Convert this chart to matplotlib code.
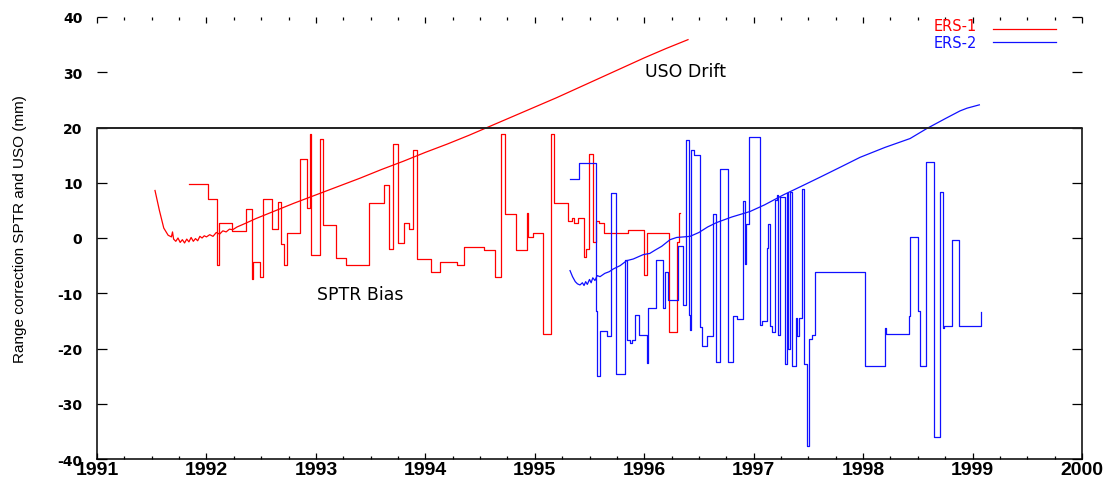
import numpy as np
import matplotlib
matplotlib.use("Agg")
import matplotlib.pyplot as plt
from matplotlib.ticker import MultipleLocator

# ---------------- data ----------------
# ERS-1 SPTR bias: step start times (decimal year) and values (mm)
ers1_sptr_t = [1991.841, 1992.012, 1992.094, 1992.118, 1992.231, 1992.361, 1992.414,
               1992.428, 1992.489, 1992.514, 1992.602, 1992.651, 1992.679, 1992.711,
               1992.739, 1992.858, 1992.916, 1992.949, 1992.958, 1993.038, 1993.062,
               1993.184, 1993.275, 1993.485, 1993.622, 1993.668, 1993.705, 1993.750,
               1993.805, 1993.848, 1993.885, 1993.921, 1994.052, 1994.134, 1994.289,
               1994.353, 1994.536, 1994.634, 1994.689, 1994.728, 1994.829, 1994.932,
               1994.941, 1994.984, 1995.078, 1995.146, 1995.179, 1995.301, 1995.338,
               1995.359, 1995.398, 1995.453, 1995.468, 1995.498, 1995.535, 1995.560,
               1995.590, 1995.635, 1995.849, 1996.001, 1996.023, 1996.227, 1996.297,
               1996.321]
ers1_sptr_v = [9.8, 7.1, -4.9, 2.7, 1.3, 5.3, -7.4,
               -4.4, -7.0, 7.1, 1.6, 6.6, -1.1, -4.9,
               0.85, 14.3, 5.5, 18.8, -3.0, 17.9, 2.4,
               -3.7, -4.9, 6.3, 9.6, -2.0, 17.0, -0.9,
               2.7, 1.6, 15.9, -3.8, -6.1, -4.3, -4.8,
               -1.6, -2.2, -7.0, 18.8, 4.3, -2.1, 4.5,
               0.2, 0.9, -17.3, 18.9, 6.3, 3.1, 3.6,
               2.7, 3.6, -3.5, -2.0, 15.2, -0.8, 3.1,
               2.7, 0.9, 1.45, -6.7, 0.9, -17.1, -0.8,
               4.5]
ers1_sptr_end = 1996.325

# ERS-2 SPTR bias
ers2_sptr_t = [1995.322, 1995.404, 1995.560, 1995.571, 1995.596, 1995.663, 1995.694,
               1995.740, 1995.825, 1995.843, 1995.870, 1995.891, 1995.916, 1995.955,
               1996.023, 1996.037, 1996.108, 1996.175, 1996.193, 1996.220, 1996.312,
               1996.357, 1996.382, 1996.409, 1996.418, 1996.428, 1996.458, 1996.510,
               1996.525, 1996.577, 1996.631, 1996.653, 1996.693, 1996.768, 1996.809,
               1996.845, 1996.906, 1996.917, 1996.926, 1996.960, 1997.058, 1997.079,
               1997.119, 1997.134, 1997.149, 1997.168, 1997.195, 1997.211, 1997.225,
               1997.241, 1997.287, 1997.302, 1997.314, 1997.332, 1997.348, 1997.384,
               1997.393, 1997.414, 1997.445, 1997.460, 1997.483, 1997.506, 1997.530,
               1997.561, 1998.018, 1998.200, 1998.209, 1998.420, 1998.429, 1998.505,
               1998.520, 1998.572, 1998.651, 1998.703, 1998.733, 1998.742, 1998.815,
               1998.876, 1999.078]
ers2_sptr_v = [10.7, 13.5, -13.2, -25.0, -16.8, -17.8, 8.1,
               -24.7, -4.0, -18.5, -19.0, -18.5, -13.9, -17.5,
               -22.7, -12.7, -4.0, -12.7, -6.2, -11.2, -1.4,
               -12.1, 17.7, -14.0, -16.6, 15.9, 15.0, -16.1,
               -19.5, -17.8, 4.4, -22.5, 12.4, -22.5, -14.1,
               -14.7, 6.75, -4.7, 2.6, 18.2, -15.7, -15.0,
               -1.8, 2.6, -15.9, -17.1, 6.9, 7.7, -17.5,
               7.5, -22.8, 8.2, -20.0, 8.3, -23.1, -14.4,
               -17.7, -14.5, 8.9, -22.8, -37.6, -18.3, -17.5,
               -6.1, -23.1, -16.3, -17.3, -14.2, 0.1, -13.3,
               -23.2, 13.8, -36.1, 8.4, -16.3, -15.9, -0.3,
               -15.9, -13.4]
ers2_sptr_end = 1999.080

# ERS-1 USO drift
ers1_uso_t = [1991.53, 1991.57, 1991.61, 1991.65, 1991.68, 1991.69, 1991.70, 1991.72,
              1991.74, 1991.76, 1991.78, 1991.80, 1991.82, 1991.84, 1991.86, 1991.88,
              1991.90, 1991.92, 1991.94, 1991.96, 1991.98, 1992.00, 1992.03, 1992.06,
              1992.09, 1992.12, 1992.15, 1992.18, 1992.21, 1992.24, 1992.28, 1992.35,
              1992.45, 1992.60, 1992.80, 1993.00, 1993.20, 1993.40, 1993.60, 1993.80,
              1994.00, 1994.20, 1994.40, 1994.60, 1994.80, 1995.00, 1995.20, 1995.40,
              1995.60, 1995.80, 1996.00, 1996.20, 1996.40]
ers1_uso_v = [8.6, 5.0, 1.8, 0.5, 0.2, 1.1, -0.2, -0.6,
              0.0, -0.8, -0.3, -0.9, -0.2, -0.7, 0.1, -0.6,
              -0.1, -0.5, 0.3, 0.0, 0.4, 0.2, 0.6, 0.3,
              1.0, 0.7, 1.3, 1.1, 1.6, 1.5, 2.0, 2.6,
              3.5, 4.7, 6.3, 7.8, 9.3, 10.8, 12.4, 13.9,
              15.5, 17.0, 18.6, 20.3, 22.0, 23.7, 25.4, 27.2,
              29.0, 30.8, 32.6, 34.3, 35.9]

# ERS-2 USO drift
ers2_uso_t = [1995.322, 1995.345, 1995.370, 1995.390, 1995.413, 1995.435, 1995.450,
              1995.465, 1995.480, 1995.500, 1995.515, 1995.530, 1995.550, 1995.570,
              1995.596, 1995.640, 1995.680, 1995.718, 1995.780, 1995.840, 1995.900,
              1995.992, 1996.050, 1996.099, 1996.160, 1996.236, 1996.297, 1996.360,
              1996.419, 1996.500, 1996.580, 1996.662, 1996.800, 1996.967, 1997.100,
              1997.271, 1997.450, 1997.606, 1997.800, 1997.972, 1998.200, 1998.429,
              1998.581, 1998.750, 1998.885, 1998.950, 1999.062]
ers2_uso_v = [-5.9, -7.0, -7.9, -8.3, -8.5, -8.1, -8.6,
              -7.9, -8.4, -7.5, -8.1, -7.2, -7.7, -6.8,
              -7.0, -6.4, -6.1, -5.6, -5.0, -4.1, -3.8,
              -3.0, -2.8, -2.2, -1.5, -0.3, 0.1, 0.2,
              0.3, 1.0, 2.0, 2.8, 3.8, 4.8, 6.0,
              7.8, 9.5, 11.0, 12.9, 14.6, 16.4, 18.0,
              19.8, 21.6, 23.0, 23.5, 24.1]

x_ticks = list(range(1991, 2001))
y_ticks = list(range(-40, 41, 10))

RED = "#ff0000"
BLUE = "#1010ff"

# ---------------- figure ----------------
fig = plt.figure(figsize=(11.08, 4.81), dpi=100)
ax = fig.add_axes([97 / 1108, 1 - 460 / 481, 985 / 1108, 442 / 481])


def steps(t, v, t_end):
    x = np.append(np.asarray(t, float), t_end)
    y = np.append(np.asarray(v, float), v[-1])
    return x, y


lw = 0.9
x1, y1 = steps(ers1_sptr_t, ers1_sptr_v, ers1_sptr_end)
ax.step(x1, y1, where="post", color=RED, lw=lw)
ax.plot(ers1_uso_t, ers1_uso_v, color=RED, lw=lw)

x2, y2 = steps(ers2_sptr_t, ers2_sptr_v, ers2_sptr_end)
ax.step(x2, y2, where="post", color=BLUE, lw=lw)
ax.plot(ers2_uso_t, ers2_uso_v, color=BLUE, lw=lw)

ax.set_xlim(1991, 2000)
ax.set_ylim(-40, 40)

# frame: closed box only below the 20 mm line
ax.spines["top"].set_visible(False)
ax.spines["left"].set_bounds(-40, 20)
ax.spines["right"].set_bounds(-40, 20)
for s in ("left", "right", "bottom"):
    ax.spines[s].set_linewidth(1.1)
ax.axhline(20, color="#202020", lw=1.4, zorder=3)

ax.set_xticks(x_ticks)
ax.set_xticklabels([str(v) for v in x_ticks])
ax.xaxis.set_minor_locator(MultipleLocator(0.25))
ax.set_yticks(y_ticks)
ax.set_yticklabels([str(v) for v in y_ticks])

ax.tick_params(axis="x", which="major", direction="in", top=True, bottom=True,
               length=4.5, width=0.9, pad=1.5)
ax.tick_params(axis="x", which="minor", direction="in", top=True, bottom=True,
               length=2.2, width=0.9)
ax.tick_params(axis="y", which="major", direction="in", left=True, right=True,
               length=7.2, width=0.9, pad=10.5)

for lab in ax.get_xticklabels():
    lab.set_fontfamily("Liberation Sans")
    lab.set_fontweight("bold")
    lab.set_fontsize(14)
for lab in ax.get_yticklabels():
    lab.set_fontfamily("DejaVu Sans")
    lab.set_fontweight("bold")
    lab.set_fontsize(10)

ax.set_ylabel("Range correction SPTR and USO (mm)",
              family="Liberation Sans", fontsize=11)
ax.yaxis.set_label_coords(-0.071, 0.523)

ax.text(1996.007, 30.2, "USO Drift", fontsize=12.5, ha="left", va="center",
        family="DejaVu Sans")
ax.text(1993.01, -10.1, "SPTR Bias", fontsize=12.5, ha="left", va="center",
        family="DejaVu Sans")

# key in the upper right corner
for label, color, ty, ly in (("ERS-1", RED, 0.9815, 0.973),
                             ("ERS-2", BLUE, 0.9425, 0.943)):
    ax.text(0.8934, ty, label, transform=ax.transAxes, color=color,
            fontsize=10.5, ha="right", va="center", family="DejaVu Sans")
    ax.plot([0.9096, 0.9736], [ly, ly], transform=ax.transAxes, color=color,
            lw=lw, clip_on=False)

fig.savefig("out.png", dpi=100)
